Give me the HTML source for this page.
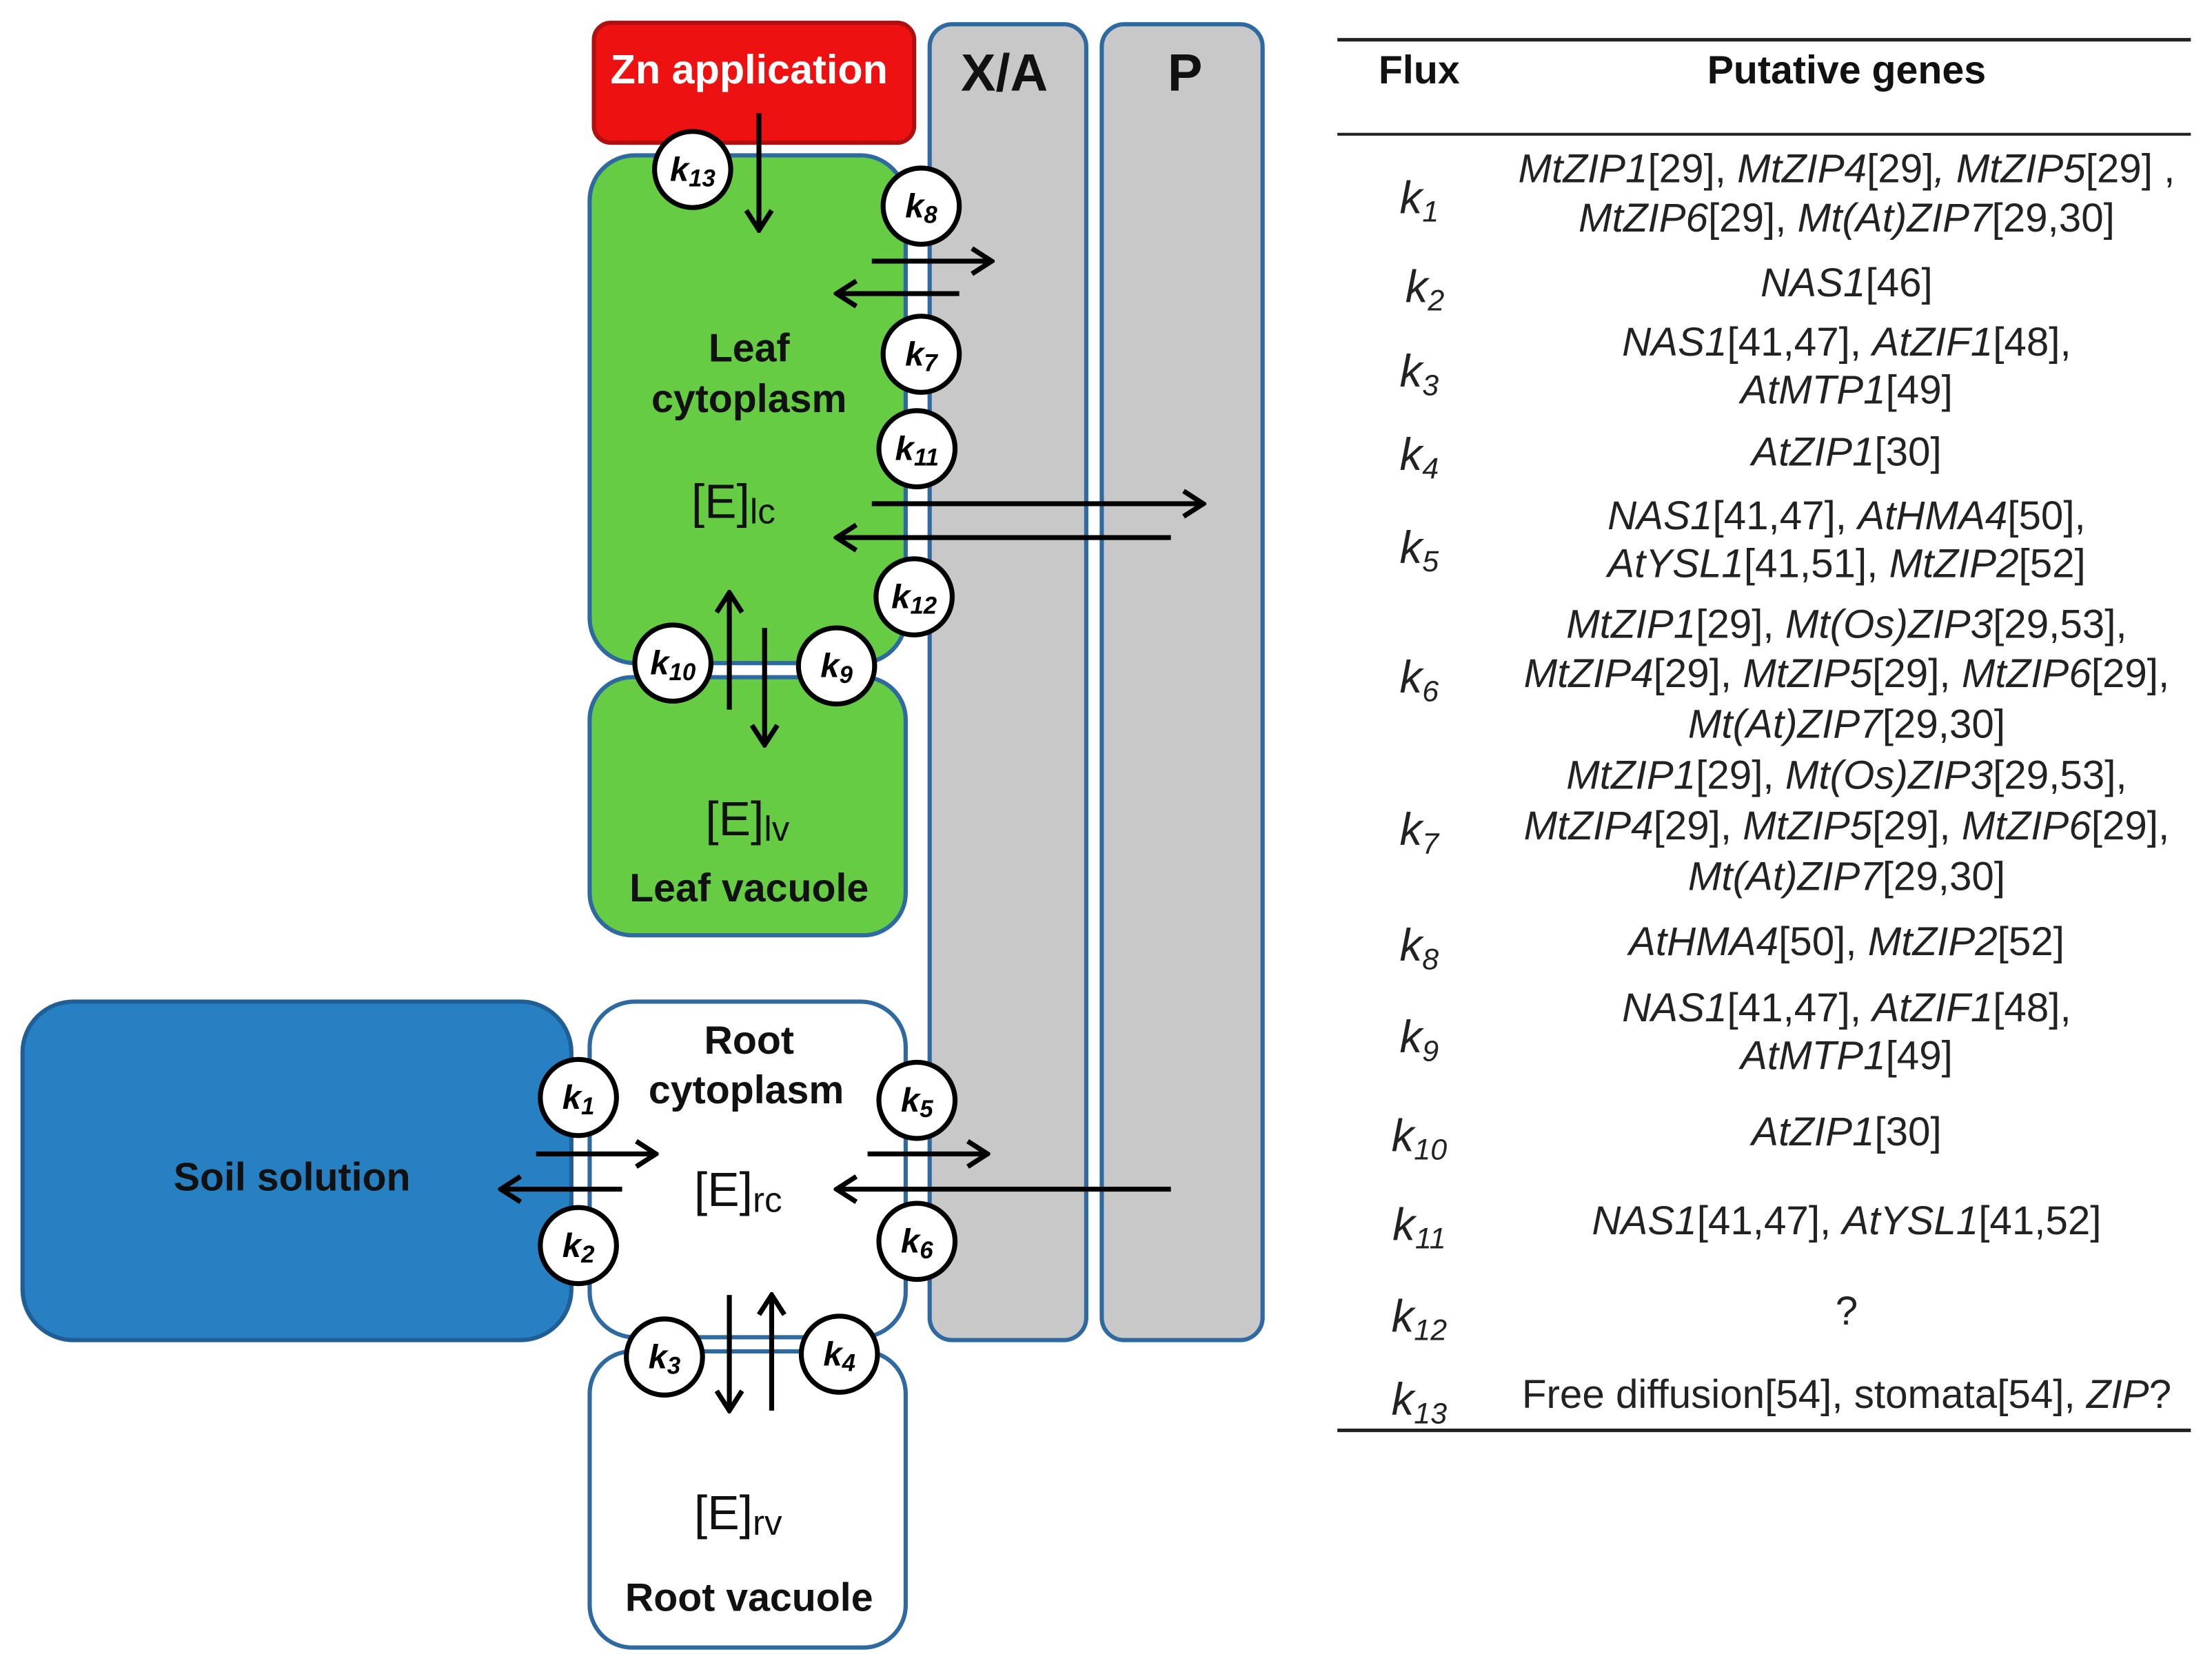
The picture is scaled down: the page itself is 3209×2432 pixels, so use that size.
<!DOCTYPE html>
<html><head><meta charset="utf-8"><style>
html,body{margin:0;padding:0;background:#fff;}
svg{display:block;}
text{font-family:"Liberation Sans","Arimo",Arial,sans-serif;}
.b{font-weight:bold;font-size:28px;fill:#111;}
.e{font-size:34px;fill:#111;}
.kc{fill:#fff;stroke:#000;stroke-width:3.5;}
.kt{font-weight:bold;font-style:italic;font-size:24px;fill:#000;}
.g{font-size:28.5px;fill:#222;}
.kl{font-style:italic;font-size:32px;fill:#222;}
.ar{stroke:#000;stroke-width:3.5;fill:none;}
</style></head><body>
<svg width="3209" height="2432" viewBox="0 0 1568 1188" xmlns="http://www.w3.org/2000/svg">
<marker id="m" markerWidth="22" markerHeight="22" refX="20" refY="11" orient="auto" markerUnits="userSpaceOnUse" viewBox="0 0 22 22"><polyline points="6,2 20,11 6,20" fill="none" stroke="#000" stroke-width="3.5"/></marker>

<rect x="659" y="17" width="111" height="933" rx="16" fill="#c8c8c8" stroke="#2e6aa0" stroke-width="3"/>
<rect x="781" y="17" width="114" height="933" rx="16" fill="#c8c8c8" stroke="#2e6aa0" stroke-width="3"/>
<text x="712" y="64" text-anchor="middle" style="font-weight:bold;font-size:37px;fill:#111">X/A</text>
<text x="840" y="64" text-anchor="middle" style="font-weight:bold;font-size:37px;fill:#111">P</text>

<rect x="421" y="16" width="227" height="85" rx="12" fill="#ee1111" stroke="#b01010" stroke-width="3"/>
<text x="531" y="59" text-anchor="middle" style="font-weight:bold;font-size:29px;fill:#fff">Zn application</text>

<rect x="418" y="110" width="224" height="360" rx="32" fill="#66cc44" stroke="#2e6aa0" stroke-width="3"/>
<rect x="418" y="480" width="224" height="183" rx="30" fill="#66cc44" stroke="#2e6aa0" stroke-width="3"/>
<text x="531" y="256" text-anchor="middle" class="b">Leaf</text>
<text x="531" y="292" text-anchor="middle" class="b">cytoplasm</text>
<text x="490" y="367" class="e">[E]<tspan font-size="25" dy="4">lc</tspan></text>
<text x="500" y="592" class="e">[E]<tspan font-size="25" dy="4">lv</tspan></text>
<text x="531" y="639" text-anchor="middle" class="b">Leaf vacuole</text>

<rect x="16" y="710" width="389" height="240" rx="36" fill="#2680c2" stroke="#1f5f95" stroke-width="3"/>
<text x="207" y="844" text-anchor="middle" class="b">Soil solution</text>

<rect x="418" y="710" width="224" height="238" rx="32" fill="#fff" stroke="#2e6aa0" stroke-width="3"/>
<rect x="418" y="958" width="224" height="210" rx="30" fill="#fff" stroke="#2e6aa0" stroke-width="3"/>
<text x="531" y="747" text-anchor="middle" class="b">Root</text>
<text x="529" y="782" text-anchor="middle" class="b">cytoplasm</text>
<text x="492" y="855" class="e">[E]<tspan font-size="25" dy="4">rc</tspan></text>
<text x="492" y="1084" class="e">[E]<tspan font-size="25" dy="4">rv</tspan></text>
<text x="531" y="1142" text-anchor="middle" class="b">Root vacuole</text>

<g class="ar">
<line x1="538" y1="80" x2="538" y2="163" marker-end="url(#m)"/>
<line x1="618" y1="185" x2="703" y2="185" marker-end="url(#m)"/>
<line x1="680" y1="208" x2="593" y2="208" marker-end="url(#m)"/>
<line x1="618" y1="357" x2="853" y2="357" marker-end="url(#m)"/>
<line x1="830" y1="381" x2="593" y2="381" marker-end="url(#m)"/>
<line x1="517" y1="503" x2="517" y2="420" marker-end="url(#m)"/>
<line x1="542" y1="445" x2="542" y2="528" marker-end="url(#m)"/>
<line x1="380" y1="818" x2="465" y2="818" marker-end="url(#m)"/>
<line x1="441" y1="843" x2="355" y2="843" marker-end="url(#m)"/>
<line x1="615" y1="818" x2="700" y2="818" marker-end="url(#m)"/>
<line x1="830" y1="843" x2="593" y2="843" marker-end="url(#m)"/>
<line x1="517" y1="918" x2="517" y2="1000" marker-end="url(#m)"/>
<line x1="547" y1="1000" x2="547" y2="918" marker-end="url(#m)"/>
</g>

<g>
<circle class="kc" cx="491" cy="120" r="27"/><text class="kt" x="491" y="128" text-anchor="middle">k<tspan font-size="17" dy="4">13</tspan></text>
<circle class="kc" cx="653" cy="146" r="27"/><text class="kt" x="653" y="154" text-anchor="middle">k<tspan font-size="17" dy="4">8</tspan></text>
<circle class="kc" cx="653" cy="251" r="27"/><text class="kt" x="653" y="259" text-anchor="middle">k<tspan font-size="17" dy="4">7</tspan></text>
<circle class="kc" cx="650" cy="318" r="27"/><text class="kt" x="650" y="326" text-anchor="middle">k<tspan font-size="17" dy="4">11</tspan></text>
<circle class="kc" cx="648" cy="423" r="27"/><text class="kt" x="648" y="431" text-anchor="middle">k<tspan font-size="17" dy="4">12</tspan></text>
<circle class="kc" cx="477" cy="470" r="27"/><text class="kt" x="477" y="478" text-anchor="middle">k<tspan font-size="17" dy="4">10</tspan></text>
<circle class="kc" cx="593" cy="472" r="27"/><text class="kt" x="593" y="480" text-anchor="middle">k<tspan font-size="17" dy="4">9</tspan></text>
<circle class="kc" cx="410" cy="778" r="27"/><text class="kt" x="410" y="786" text-anchor="middle">k<tspan font-size="17" dy="4">1</tspan></text>
<circle class="kc" cx="410" cy="883" r="27"/><text class="kt" x="410" y="891" text-anchor="middle">k<tspan font-size="17" dy="4">2</tspan></text>
<circle class="kc" cx="650" cy="780" r="27"/><text class="kt" x="650" y="788" text-anchor="middle">k<tspan font-size="17" dy="4">5</tspan></text>
<circle class="kc" cx="650" cy="880" r="27"/><text class="kt" x="650" y="888" text-anchor="middle">k<tspan font-size="17" dy="4">6</tspan></text>
<circle class="kc" cx="471" cy="962" r="27"/><text class="kt" x="471" y="970" text-anchor="middle">k<tspan font-size="17" dy="4">3</tspan></text>
<circle class="kc" cx="595" cy="960" r="27"/><text class="kt" x="595" y="968" text-anchor="middle">k<tspan font-size="17" dy="4">4</tspan></text>
</g>

<line x1="948" y1="28" x2="1553" y2="28" stroke="#222" stroke-width="2.5"/>
<line x1="948" y1="95" x2="1553" y2="95" stroke="#222" stroke-width="2"/>
<line x1="948" y1="1014" x2="1553" y2="1014" stroke="#222" stroke-width="2.5"/>
<text x="1006" y="59" text-anchor="middle" class="b">Flux</text>
<text x="1309" y="59" text-anchor="middle" class="b">Putative genes</text>

<g class="kl" text-anchor="middle">
<text x="1006" y="151">k<tspan font-size="21" dy="6">1</tspan></text>
<text x="1010" y="214">k<tspan font-size="21" dy="6">2</tspan></text>
<text x="1006" y="274">k<tspan font-size="21" dy="6">3</tspan></text>
<text x="1006" y="333">k<tspan font-size="21" dy="6">4</tspan></text>
<text x="1006" y="399">k<tspan font-size="21" dy="6">5</tspan></text>
<text x="1006" y="491">k<tspan font-size="21" dy="6">6</tspan></text>
<text x="1006" y="599">k<tspan font-size="21" dy="6">7</tspan></text>
<text x="1006" y="681">k<tspan font-size="21" dy="6">8</tspan></text>
<text x="1006" y="746">k<tspan font-size="21" dy="6">9</tspan></text>
<text x="1006" y="816">k<tspan font-size="21" dy="6">10</tspan></text>
<text x="1006" y="879">k<tspan font-size="21" dy="6">11</tspan></text>
<text x="1006" y="944">k<tspan font-size="21" dy="6">12</tspan></text>
<text x="1006" y="1003">k<tspan font-size="21" dy="6">13</tspan></text>
</g>

<g class="g" text-anchor="middle">
<text x="1309" y="129"><tspan font-style="italic">MtZIP1</tspan>[29], <tspan font-style="italic">MtZIP4</tspan>[29]<tspan font-style="italic">, MtZIP5</tspan>[29] ,</text>
<text x="1309" y="164"><tspan font-style="italic">MtZIP6</tspan>[29], <tspan font-style="italic">Mt(At)ZIP7</tspan>[29,30]</text>
<text x="1309" y="210"><tspan font-style="italic">NAS1</tspan>[46]</text>
<text x="1309" y="252"><tspan font-style="italic">NAS1</tspan>[41,47], <tspan font-style="italic">AtZIF1</tspan>[48],</text>
<text x="1309" y="286"><tspan font-style="italic">AtMTP1</tspan>[49]</text>
<text x="1309" y="330"><tspan font-style="italic">AtZIP1</tspan>[30]</text>
<text x="1309" y="375"><tspan font-style="italic">NAS1</tspan>[41,47], <tspan font-style="italic">AtHMA4</tspan>[50],</text>
<text x="1309" y="409"><tspan font-style="italic">AtYSL1</tspan>[41,51], <tspan font-style="italic">MtZIP2</tspan>[52]</text>
<text x="1309" y="452"><tspan font-style="italic">MtZIP1</tspan>[29], <tspan font-style="italic">Mt(Os)ZIP3</tspan>[29,53],</text>
<text x="1309" y="487"><tspan font-style="italic">MtZIP4</tspan>[29], <tspan font-style="italic">MtZIP5</tspan>[29], <tspan font-style="italic">MtZIP6</tspan>[29],</text>
<text x="1309" y="523"><tspan font-style="italic">Mt(At)ZIP7</tspan>[29,30]</text>
<text x="1309" y="559"><tspan font-style="italic">MtZIP1</tspan>[29], <tspan font-style="italic">Mt(Os)ZIP3</tspan>[29,53],</text>
<text x="1309" y="595"><tspan font-style="italic">MtZIP4</tspan>[29], <tspan font-style="italic">MtZIP5</tspan>[29], <tspan font-style="italic">MtZIP6</tspan>[29],</text>
<text x="1309" y="631"><tspan font-style="italic">Mt(At)ZIP7</tspan>[29,30]</text>
<text x="1309" y="677"><tspan font-style="italic">AtHMA4</tspan>[50], <tspan font-style="italic">MtZIP2</tspan>[52]</text>
<text x="1309" y="724"><tspan font-style="italic">NAS1</tspan>[41,47], <tspan font-style="italic">AtZIF1</tspan>[48],</text>
<text x="1309" y="758"><tspan font-style="italic">AtMTP1</tspan>[49]</text>
<text x="1309" y="812"><tspan font-style="italic">AtZIP1</tspan>[30]</text>
<text x="1309" y="875"><tspan font-style="italic">NAS1</tspan>[41,47], <tspan font-style="italic">AtYSL1</tspan>[41,52]</text>
<text x="1309" y="939">?</text>
<text x="1309" y="998">Free diffusion[54], stomata[54], <tspan font-style="italic">ZIP</tspan>?</text>
</g>
</svg>
</body></html>
